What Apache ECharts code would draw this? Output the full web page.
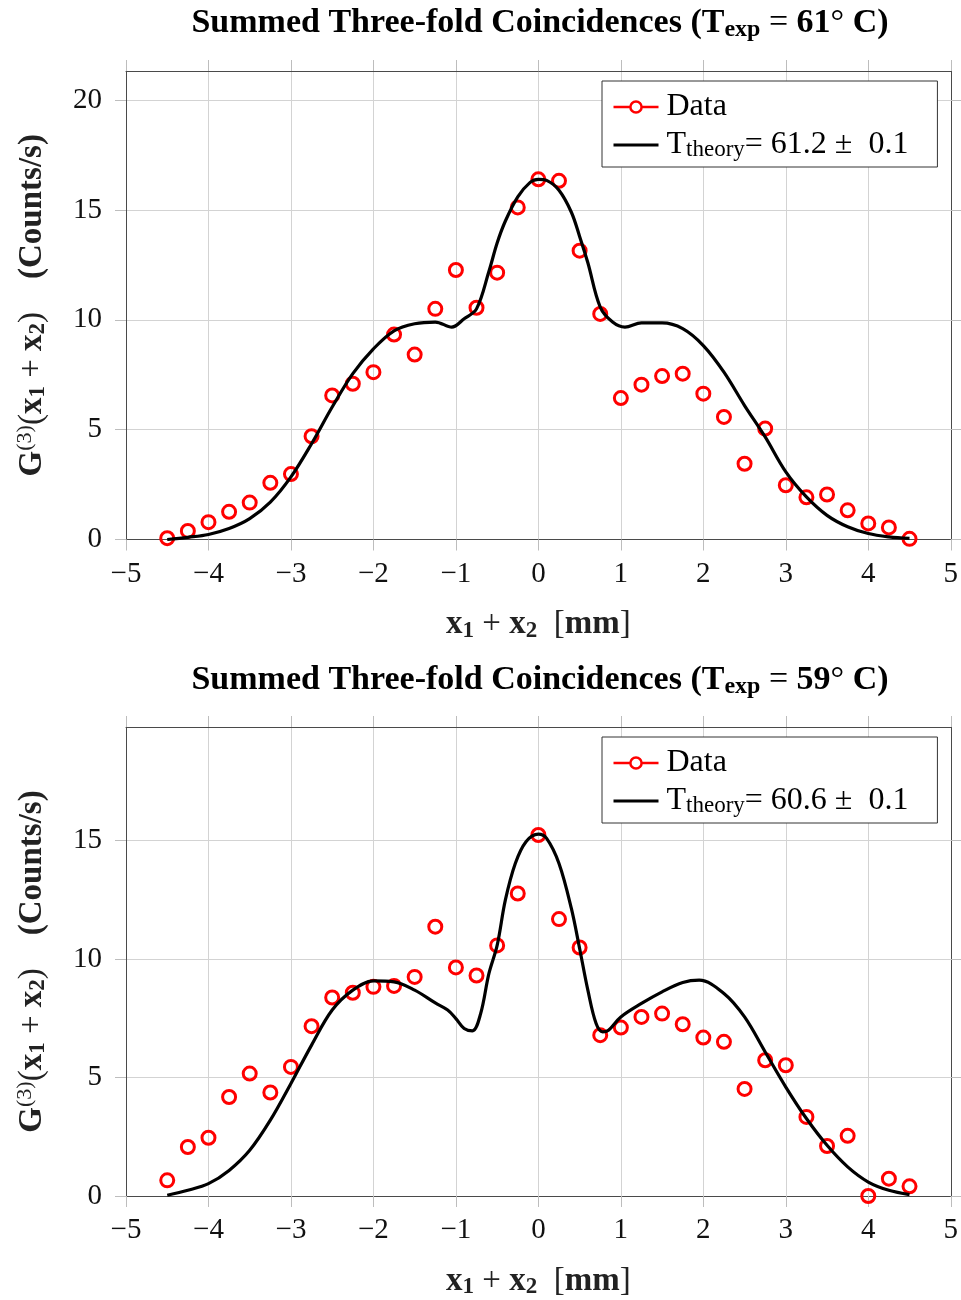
<!DOCTYPE html>
<html>
<head>
<meta charset="utf-8">
<script src="https://cdn.jsdelivr.net/npm/echarts@6/dist/echarts.min.js"></script>
<style>
html, body { margin: 0; padding: 0; background: #fff; }
#main { width: 961px; height: 1300px; }
</style>
</head>
<body>
<div id="main"></div>
<script>
// measured positions along x1 + x2 [mm]
const dataX = [-4.5, -4.25, -4, -3.75, -3.5, -3.25, -3, -2.75, -2.5, -2.25, -2, -1.75, -1.5, -1.25, -1, -0.75, -0.5, -0.25,
  0, 0.25, 0.5, 0.75, 1, 1.25, 1.5, 1.75, 2, 2.25, 2.5, 2.75, 3, 3.25, 3.5, 3.75, 4, 4.25, 4.5];

// T_exp = 61 C
const dataTop = [0.06, 0.39, 0.79, 1.26, 1.68, 2.58, 2.98, 4.70, 6.56, 7.09, 7.62, 9.33, 8.42, 10.5, 12.27, 10.55, 12.15, 15.12,
  16.4, 16.33, 13.15, 10.27, 6.44, 7.05, 7.44, 7.55, 6.64, 5.58, 3.45, 5.05, 2.47, 1.92, 2.05, 1.33, 0.73, 0.55, 0.03];

// T_exp = 59 C
const dataBottom = [0.66, 2.07, 2.46, 4.18, 5.17, 4.37, 5.45, 7.17, 8.38, 8.58, 8.83, 8.87, 9.25, 11.37, 9.65, 9.31, 10.58, 12.77,
  15.24, 11.69, 10.49, 6.79, 7.11, 7.56, 7.7, 7.25, 6.69, 6.51, 4.52, 5.73, 5.52, 3.34, 2.11, 2.54, 0.0, 0.73, 0.41];

// theory curves
const theoryXTop = [-4.5, -4.25, -4, -3.75, -3.5, -3.25, -3, -2.75, -2.5, -2.25, -2, -1.75, -1.5, -1.25, -1.05, -0.9, -0.75, -0.6,
  -0.5, -0.4, -0.25, -0.1, 0, 0.1, 0.25, 0.4, 0.5, 0.6, 0.75, 0.9, 1.05, 1.25, 1.5, 1.75, 2, 2.25, 2.5, 2.75, 3, 3.25, 3.5, 3.75, 4, 4.25, 4.5];
const theoryTop = [0.0, 0.1, 0.23, 0.5, 0.95, 1.7, 2.85, 4.36, 6.03, 7.55, 8.68, 9.5, 9.82, 9.9, 9.67, 10.05, 10.5, 12.2,
  13.5, 14.5, 15.6, 16.26, 16.4, 16.35, 15.9, 14.9, 13.8, 12.6, 10.58, 9.9, 9.67, 9.86, 9.86, 9.6, 8.83, 7.62, 6.1, 4.67, 3.08, 1.94, 1.1, 0.58, 0.27, 0.12, 0.05];

const theoryXBottom = [-4.5, -4.25, -4, -3.75, -3.5, -3.25, -3, -2.75, -2.5, -2.25, -2, -1.75, -1.5, -1.25, -1.1, -1, -0.9, -0.8, -0.7, -0.6,
  -0.5, -0.4, -0.28, -0.15, 0, 0.1, 0.25, 0.4, 0.5, 0.6, 0.7, 0.78, 0.85, 1, 1.25, 1.5, 1.75, 1.95, 2.25, 2.5, 2.75, 3, 3.25, 3.5, 3.75, 4, 4.25, 4.5];
const theoryBottom = [0.03, 0.24, 0.52, 1.08, 1.93, 3.2, 4.75, 6.37, 7.85, 8.69, 9.08, 9.04, 8.69, 8.15, 7.85, 7.49, 7.07, 6.97, 7.7, 9.39,
  10.58, 12.5, 14.04, 14.96, 15.28, 15.1, 14.04, 12.14, 10.45, 8.69, 7.28, 6.93, 7.0, 7.56, 8.13, 8.62, 9.01, 9.11, 8.55, 7.56, 6.08, 4.6, 3.27, 2.14, 1.23, 0.59, 0.24, 0.06];

const yTicksTop = [0, 5, 10, 15, 20];
const yTicksBottom = [0, 5, 10, 15];
const theoryLabelTop = '= 61.2 \u00b1  0.1';
const theoryLabelBottom = '= 60.6 \u00b1  0.1';

const serif = '"Liberation Serif", "DejaVu Serif", serif';
const tickColor = '#bdbdbd';
const gridColor = '#d3d3d3';
const frameColor = '#4a4a4a';

function pairs(xs, ys) {
  return xs.map((x, i) => [x, ys[i]]);
}
function minus(v) {
  return v < 0 ? '\u2212' + Math.abs(v) : String(v);
}

const nameRich = {
  b: { fontFamily: serif, fontWeight: 'bold', fontSize: 33, lineHeight: 36, color: '#222' },
  n: { fontFamily: serif, fontSize: 33, lineHeight: 36, color: '#222' },
  bs: { fontFamily: serif, fontWeight: 'bold', fontSize: 23, lineHeight: 14, verticalAlign: 'bottom', color: '#222' },
  sup: { fontFamily: serif, fontSize: 22, lineHeight: 12, verticalAlign: 'top', color: '#222' }
};
const xName = '{b|x}{bs|1}{n| + }{b|x}{bs|2}{n|  [}{b|mm}{n|]}';
const yName = '{b|G}{sup|(3)}{n|(}{b|x}{bs|1}{n| + }{b|x}{bs|2}{n|)    }{b|(Counts/s)}';

const legendRich = {
  n: { fontFamily: serif, fontSize: 32, lineHeight: 32, color: '#000', padding: [0, 0, 0, 3] },
  s: { fontFamily: serif, fontSize: 23, lineHeight: 12, verticalAlign: 'bottom', color: '#000' },
  m: { fontFamily: serif, fontSize: 32, lineHeight: 32, color: '#000' }
};

const titleRich = {
  tb: { fontFamily: serif, fontWeight: 'bold', fontSize: 34, lineHeight: 38, fill: '#000' },
  tn: { fontFamily: serif, fontSize: 34, lineHeight: 38, fill: '#000' },
  ts: { fontFamily: serif, fontWeight: 'bold', fontSize: 24, lineHeight: 14, verticalAlign: 'bottom', fill: '#000' }
};

function xAxes(gi) {
  return [
    {
      type: 'value', gridIndex: gi, min: -5, max: 5, interval: 1, position: 'bottom',
      axisLine: { show: true, onZero: false, lineStyle: { color: frameColor, width: 1 } },
      axisTick: { show: true, length: 11, lineStyle: { color: tickColor, width: 1 } },
      axisLabel: { margin: 20, fontFamily: serif, fontSize: 29, color: '#111', formatter: minus },
      splitLine: { show: true, lineStyle: { color: gridColor, width: 1 } },
      name: xName, nameLocation: 'middle', nameGap: 67,
      nameTextStyle: { rich: nameRich }
    },
    {
      type: 'value', gridIndex: gi, min: -5, max: 5, interval: 1, position: 'top',
      axisLine: { show: true, onZero: false, lineStyle: { color: frameColor, width: 1 } },
      axisTick: { show: true, length: 11, lineStyle: { color: tickColor, width: 1 } },
      axisLabel: { show: false },
      splitLine: { show: false }
    }
  ];
}

function yAxes(gi, yMax, ticks) {
  return [
    {
      type: 'value', gridIndex: gi, min: 0, max: yMax, interval: 5, position: 'left',
      axisLine: { show: true, onZero: false, lineStyle: { color: frameColor, width: 1 } },
      axisTick: { show: true, length: 11, customValues: ticks, lineStyle: { color: tickColor, width: 1 } },
      axisLabel: { customValues: ticks, margin: 24, fontFamily: serif, fontSize: 29, color: '#111' },
      splitLine: { show: true, lineStyle: { color: gridColor, width: 1 } },
      name: yName, nameLocation: 'middle', nameGap: 76, nameRotate: 90,
      nameTextStyle: { rich: nameRich }
    },
    {
      type: 'value', gridIndex: gi, min: 0, max: yMax, interval: 5, position: 'right',
      axisLine: { show: true, onZero: false, lineStyle: { color: frameColor, width: 1 } },
      axisTick: { show: true, length: 11, customValues: ticks, lineStyle: { color: tickColor, width: 1 } },
      axisLabel: { show: false },
      splitLine: { show: false }
    }
  ];
}

function makeLegend(top, theoryName, theoryText) {
  return {
    orient: 'vertical', left: 602, top: top,
    padding: [10, 29, 6, 10], itemGap: 6, itemWidth: 45, itemHeight: 14,
    backgroundColor: '#fff', borderColor: '#333', borderWidth: 1, borderRadius: 0,
    textStyle: { fontFamily: serif, fontSize: 32, color: '#000', rich: legendRich },
    formatter: function (name) {
      if (name === 'Data') return '{n|Data}';
      return '{n|T}{s|theory}{m|' + theoryText + '}';
    },
    data: [
      { name: 'Data', itemStyle: { color: '#fff', borderColor: '#ff0000', borderWidth: 2.5 },
        lineStyle: { color: '#ff0000', width: 2.5, opacity: 1 } },
      { name: theoryName, itemStyle: { opacity: 0 },
        lineStyle: { color: '#000', width: 3, opacity: 1 } }
    ]
  };
}

function dataSeries(xi, yi, values) {
  return {
    name: 'Data', type: 'line', xAxisIndex: xi, yAxisIndex: yi,
    data: pairs(dataX, values), clip: false,
    symbol: 'circle', symbolSize: 13, showSymbol: true,
    lineStyle: { opacity: 0 },
    itemStyle: { color: 'rgba(255,255,255,0)', borderColor: '#ff0000', borderWidth: 3 },
    z: 2
  };
}

function theorySeries(name, xi, yi, xs, ys) {
  return {
    name: name, type: 'line', xAxisIndex: xi, yAxisIndex: yi,
    data: pairs(xs, ys), smooth: 0.35, showSymbol: false, symbol: 'circle', clip: false,
    lineStyle: { color: '#000', width: 3.2 },
    itemStyle: { color: '#000' },
    z: 3
  };
}

const chart = echarts.init(document.getElementById('main'));
const option = {
  animation: false,
  backgroundColor: '#fff',
  grid: [
    { left: 126, top: 71, width: 828, height: 468.5 },
    { left: 126, top: 727, width: 828, height: 469 }
  ],
  xAxis: xAxes(0).concat(xAxes(1)),
  yAxis: yAxes(0, 21.33, yTicksTop).concat(yAxes(1, 19.8, yTicksBottom)),
  legend: [
    makeLegend(81, 'Ttheory61', theoryLabelTop),
    makeLegend(737, 'Ttheory60', theoryLabelBottom)
  ],
  graphic: [
    {
      type: 'text', x: 540, y: 23, silent: true,
      style: {
        text: '{tb|Summed Three-fold Coincidences (T}{ts|exp}{tn| = }{tb|61}{tn|\u00b0}{tb| C)}',
        rich: titleRich, align: 'center', verticalAlign: 'middle', textAlign: 'center', textVerticalAlign: 'middle'
      }
    },
    {
      type: 'text', x: 540, y: 680, silent: true,
      style: {
        text: '{tb|Summed Three-fold Coincidences (T}{ts|exp}{tn| = }{tb|59}{tn|\u00b0}{tb| C)}',
        rich: titleRich, align: 'center', verticalAlign: 'middle', textAlign: 'center', textVerticalAlign: 'middle'
      }
    }
  ],
  series: [
    dataSeries(0, 0, dataTop),
    theorySeries('Ttheory61', 0, 0, theoryXTop, theoryTop),
    dataSeries(2, 2, dataBottom),
    theorySeries('Ttheory60', 2, 2, theoryXBottom, theoryBottom)
  ]
};
chart.setOption(option);
</script>
</body>
</html>
